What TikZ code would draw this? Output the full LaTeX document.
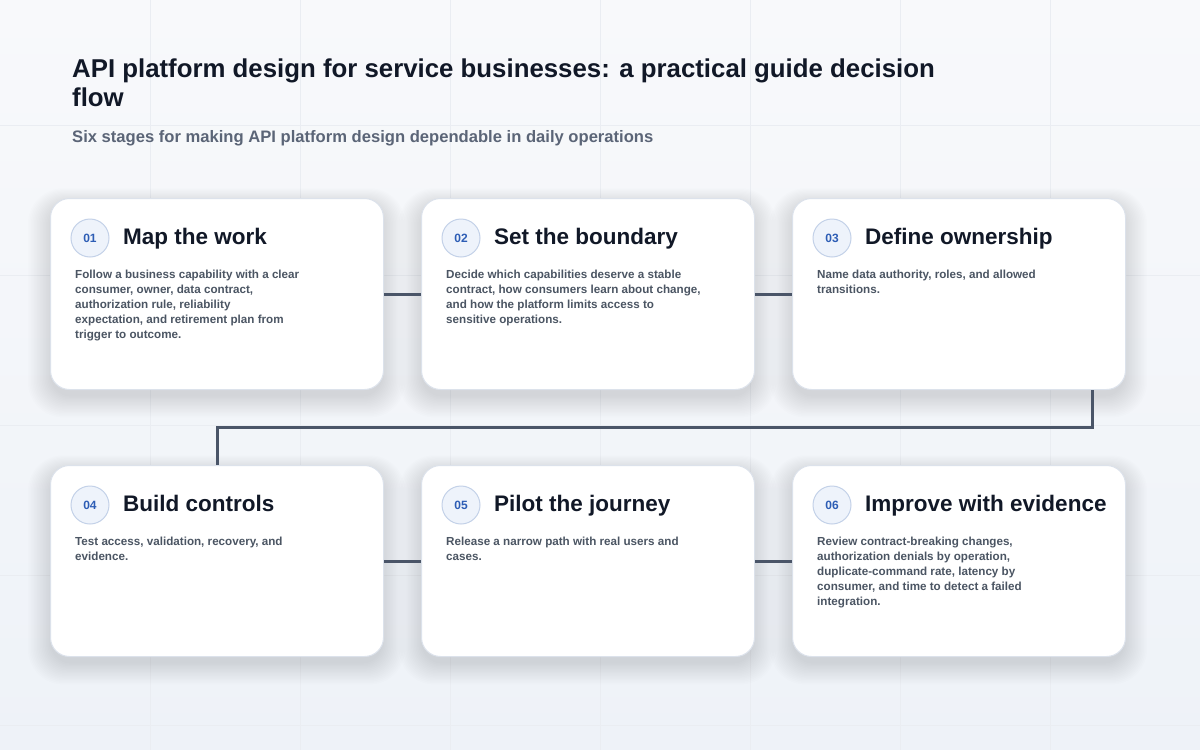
\documentclass[tikz,border=0pt]{standalone}
\usepackage{fontspec}
\setmainfont{Liberation Sans}
\definecolor{bgtop}{HTML}{F8F9FB}
\definecolor{bgbot}{HTML}{EEF2F8}
\definecolor{gridc}{HTML}{EAEDF2}
\definecolor{cardborder}{HTML}{DCE2EB}
\definecolor{titlec}{HTML}{111827}
\definecolor{subc}{HTML}{5B6577}
\definecolor{bodyc}{HTML}{4B5563}
\definecolor{connc}{HTML}{4A5568}
\definecolor{badgefill}{HTML}{EEF3FB}
\definecolor{badgeline}{HTML}{C3D1E8}
\definecolor{badgetext}{HTML}{2D5DB5}
\definecolor{shadowc}{HTML}{1E2A44}
\tikzset{
  card/.style={draw=cardborder, line width=1pt, fill=white, rounded corners=19pt,
    minimum width=333pt, minimum height=191pt, inner sep=0pt},
  badge/.style={circle, draw=badgeline, line width=1pt, fill=badgefill, minimum size=38pt,
    inner sep=0pt, text=badgetext, font=\fontsize{12}{14}\selectfont\bfseries},
  ctitle/.style={inner sep=0pt, text=titlec, font=\fontsize{22.5}{26}\selectfont\bfseries},
  cbody/.style={inner sep=0pt, align=left, text=bodyc, font=\fontsize{11.65}{15}\selectfont\bfseries},
  conn/.style={draw=connc, line width=3pt},
}
\newcommand\stagecard[6]{%
  \foreach \s in {1,...,16}{
    \fill[shadowc, opacity=0.007, rounded corners=19pt+\s pt]
      (#2-\s*1.5+2,#3+8-\s*1.1) rectangle (#2+333+\s*1.5-2,#3+191+6+\s*1.4);
  }
  \node[card, anchor=north west] (c#1) at (#2,#3) {};
  \node[badge] (b#1) at ([xshift=40pt,yshift=-40pt]c#1.north west) {#4};
  \node[ctitle, anchor=base west] (t#1) at ([xshift=73pt,yshift=-46.5pt]c#1.north west) {#5};
  \node[cbody, anchor=north west] (d#1) at ([xshift=25pt,yshift=-71.5pt]c#1.north west) {#6};
}
\begin{document}
\begin{tikzpicture}[x=1pt,y=-1pt]
\useasboundingbox (0,0) rectangle (1200,750);
\shade[top color=bgtop, bottom color=bgbot] (0,0) rectangle (1200,750);
\foreach \gx in {150,300,...,1050} \draw[gridc, line width=0.8pt] (\gx,0) -- (\gx,750);
\foreach \gy in {125,275,425,575,725} \draw[gridc, line width=0.8pt] (0,\gy) -- (1200,\gy);

\node[anchor=base west, inner sep=0pt, align=left, text=titlec, font=\fontsize{25.8}{29.5}\selectfont\bfseries] (title) at (72,106.5)
  {API platform design for service businesses: a practical guide decision\\flow};
\node[anchor=base west, inner sep=0pt, text=subc, font=\fontsize{16.6}{20}\selectfont\bfseries] (subtitle) at (72,142)
  {Six stages for making API platform design dependable in daily operations};

\stagecard{1}{50}{198}{01}{Map the work}{Follow a business capability with a clear\\consumer, owner, data contract,\\authorization rule, reliability\\expectation, and retirement plan from\\trigger to outcome.}
\stagecard{2}{421}{198}{02}{Set the boundary}{Decide which capabilities deserve a stable\\contract, how consumers learn about change,\\and how the platform limits access to\\sensitive operations.}
\stagecard{3}{792}{198}{03}{Define ownership}{Name data authority, roles, and allowed\\transitions.}
\stagecard{4}{50}{465}{04}{Build controls}{Test access, validation, recovery, and\\evidence.}
\stagecard{5}{421}{465}{05}{Pilot the journey}{Release a narrow path with real users and\\cases.}
\stagecard{6}{792}{465}{06}{Improve with evidence}{Review contract-breaking changes,\\authorization denials by operation,\\duplicate-command rate, latency by\\consumer, and time to detect a failed\\integration.}

\draw[conn] (c1.east) -- (c2.west);
\draw[conn] (c2.east) -- (c3.west);
\draw[conn] ([xshift=-34pt]c3.south east) -- ++(0,37.5) -| (c4.north);
\draw[conn] (c4.east) -- (c5.west);
\draw[conn] (c5.east) -- (c6.west);
\end{tikzpicture}
\end{document}
